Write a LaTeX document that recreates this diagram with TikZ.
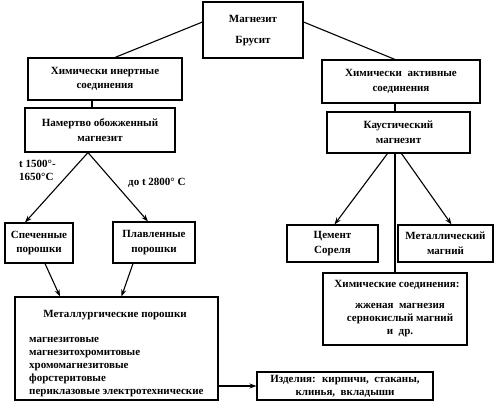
\documentclass[tikz,border=0pt]{standalone}
\usepackage{fontspec}
\setmainfont{Liberation Serif}
\usetikzlibrary{arrows.meta}
\begin{document}
\begin{tikzpicture}[x=1pt,y=-1pt,
  box/.style={draw,line width=1.1pt,inner sep=0pt,align=center,font=\bfseries\fontsize{11}{14.5}\selectfont},
  conn/.style={line width=1.1pt},
  arr/.style={line width=1.1pt,-{Stealth[length=7pt,width=5pt]}},
  txt/.style={inner sep=0pt,font=\bfseries\fontsize{11}{13}\selectfont}]
\useasboundingbox (0,0) rectangle (500,416);
\node[box,minimum width=100pt,minimum height=56pt,text height=0pt] (top) at (253,30) {};
\node[txt] (t1) at (253,19) {Магнезит};
\node[txt] (t2) at (253,41) {Брусит};
\node[box,minimum width=154pt,minimum height=42pt] (inert) at (105,79) {Химически инертные\\соединения};
\node[box,minimum width=158pt,minimum height=43pt] (active) at (401,81.5) {Химически \ активные\\соединения};
\node[box,minimum width=150pt,minimum height=44pt] (dead) at (100,130) {Намертво обожженный\\магнезит};
\node[box,minimum width=143pt,minimum height=41pt] (caus) at (398.5,132.5) {Каустический\\магнезит};
\node[box,minimum width=68pt,minimum height=40pt] (sint) at (39,243) {Спеченные\\порошки};
\node[box,minimum width=82pt,minimum height=41pt] (fused) at (154,242.5) {Плавленные\\порошки};
\node[box,minimum width=91pt,minimum height=37pt] (cem) at (332.5,243.5) {Цемент\\Сореля};
\node[box,minimum width=95pt,minimum height=37pt] (metal) at (445.5,243.5) {Металлический\\магний};
\node[box,minimum width=144pt,minimum height=72pt] (chem) at (395,309) {};
\node[txt] (c1) at (397,285) {Химические соединения:};
\node[txt,align=center] (c2) at (400,320) {жженая \ магнезия\\сернокислый магний\\и \ др.};
\node[box,minimum width=203pt,minimum height=103pt] (met) at (116.5,348.5) {};
\node[txt] (m1) at (115,315) {Металлургические порошки};
\node[txt,align=left,anchor=north west] (m2) at (29,337) {магнезитовые\\магнезитохромитовые\\хромомагнезитовые\\форстеритовые\\периклазовые электротехнические};
\node[box,minimum width=176pt,minimum height=28pt,font=\bfseries\fontsize{11}{13}\selectfont] (prod) at (345,386) {Изделия: \ кирпичи, \ стаканы,\\клинья, \ вкладыши};
\node[txt,align=left,anchor=west] (l1) at (19,170) {t 1500°-\\1650°C};
\node[txt,anchor=west] (l2) at (128,183) {до t 2800° C};
\draw[conn] ([yshift=8pt]top.west) -- ([xshift=10pt]inert.north);
\draw[conn] ([yshift=8pt]top.east) -- ([xshift=-6pt]active.north);
\draw[conn] ([xshift=-13pt]inert.south) -- ([xshift=-8pt]dead.north);
\draw[conn] ([xshift=-6pt]active.south) -- ([xshift=-3.5pt]caus.north);
\draw[arr] ([xshift=-12pt]dead.south) -- ([xshift=-14pt]sint.north);
\draw[arr] ([xshift=-12pt]dead.south) -- ([xshift=-6pt]fused.north);
\draw[arr] ([xshift=-11pt]caus.south) -- ([xshift=2pt]cem.north);
\draw[arr] ([xshift=3pt]caus.south) -- ([xshift=6pt]metal.north);
\draw[conn] ([xshift=-3.5pt]caus.south) -- (chem.north);
\draw[arr] ([xshift=6pt]sint.south) -- ([xshift=-56.5pt]met.north);
\draw[arr] ([xshift=-21pt]fused.south) -- ([xshift=5pt]met.north);
\draw[arr] ([yshift=-37.5pt]met.east) -- (prod.west);
\end{tikzpicture}
\end{document}
